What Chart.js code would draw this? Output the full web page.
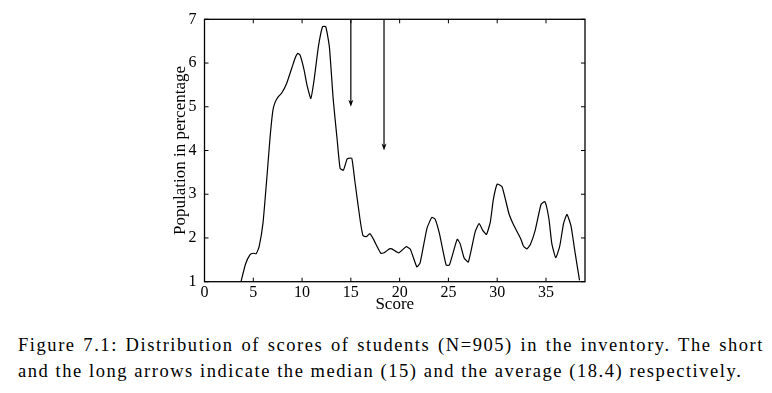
<!DOCTYPE html>
<html>
<head>
<meta charset="utf-8">
<script src="https://cdn.jsdelivr.net/npm/chart.js@4.4.1/dist/chart.umd.min.js"></script>
<style>
  html, body { margin: 0; padding: 0; background: #fff; }
  #wrap { position: absolute; left: 0; top: 0; width: 772px; height: 320px; }
  .cap { position: absolute; left: 18px; font-family: "Liberation Serif", "Times New Roman", serif; font-size: 18.5px; letter-spacing: 1.55px; color: #000; white-space: nowrap; }
  #cap1 { top: 335px; width: 746px; text-align: justify; text-align-last: justify; white-space: normal; }
  #cap2 { top: 361px; }
</style>
</head>
<body>
<div id="wrap"><canvas id="scoreChart" width="772" height="320"></canvas></div>
<div class="cap" id="cap1">Figure 7.1: Distribution of scores of students (N=905) in the inventory. The short</div>
<div class="cap" id="cap2">and the long arrows indicate the median (15) and the average (18.4) respectively.</div>
<script>
// Score distribution
const scores = [3.74, 4.2, 4.67, 5.0, 5.3, 5.6, 6.0, 6.4, 6.72, 7.0, 7.23, 7.57, 7.9, 8.43, 8.94, 9.3, 9.55, 9.8,
  10.2, 10.5, 10.9, 11.23, 11.67, 12.1, 12.43, 12.8, 13.2, 13.6, 13.9, 14.24, 14.6, 14.75, 15.1, 15.4, 15.95,
  16.25, 16.6, 16.95, 17.3, 17.7, 18.07, 18.4, 18.95, 19.2, 19.9, 20.67, 21.1, 21.76, 22.1, 22.8, 23.3, 23.64,
  24.08, 24.77, 25.1, 25.9, 26.2, 26.6, 27.04, 27.74, 28.15, 28.5, 28.9, 29.3, 29.6, 30.0, 30.5, 31.2, 31.7,
  32.4, 32.7, 33.05, 33.4, 33.9, 34.5, 34.9, 35.3, 35.6, 36.0, 36.4, 36.8, 37.15, 37.56, 38.0, 38.44];
const percents = [1.0, 1.4, 1.62, 1.65, 1.64, 1.8, 2.35, 3.4, 4.3, 4.9, 5.1, 5.23, 5.31, 5.54, 5.88, 6.12, 6.22, 6.18,
  5.85, 5.5, 5.19, 5.61, 6.37, 6.83, 6.83, 6.37, 5.15, 4.24, 3.59, 3.55, 3.8, 3.82, 3.82, 3.32, 2.41,
  2.05, 2.03, 2.1, 1.98, 1.8, 1.65, 1.66, 1.75, 1.75, 1.66, 1.8, 1.74, 1.34, 1.43, 2.22, 2.47, 2.43,
  2.1, 1.38, 1.38, 1.97, 1.87, 1.55, 1.45, 2.14, 2.33, 2.18, 2.08, 2.37, 2.87, 3.23, 3.17, 2.56, 2.29,
  1.99, 1.81, 1.75, 1.85, 2.18, 2.77, 2.83, 2.44, 1.87, 1.55, 1.8, 2.33, 2.54, 2.28, 1.64, 1.03];

// Arrows: [score, tip value]
const medianArrow = [15, 5];
const averageArrow = [18.4, 4];

const serif = '"Liberation Serif", "Times New Roman", serif';

const inwardTicks = {
  id: 'inwardTicks',
  afterDraw(chart) {
    const ctx = chart.ctx;
    const xs = chart.scales.x, ys = chart.scales.y;
    const a = chart.chartArea;
    const len = 4;
    ctx.save();
    ctx.strokeStyle = '#000';
    ctx.lineWidth = 1;
    ctx.beginPath();
    xs.ticks.forEach(t => {
      const px = xs.getPixelForValue(t.value);
      ctx.moveTo(px, a.bottom); ctx.lineTo(px, a.bottom - len);
      ctx.moveTo(px, a.top); ctx.lineTo(px, a.top + len);
    });
    ys.ticks.forEach(t => {
      const py = ys.getPixelForValue(t.value);
      ctx.moveTo(a.left, py); ctx.lineTo(a.left + len, py);
      ctx.moveTo(a.right, py); ctx.lineTo(a.right - len, py);
    });
    ctx.stroke();
    ctx.lineWidth = 1.3;
    ctx.strokeRect(a.left, a.top, a.right - a.left, a.bottom - a.top);
    ctx.restore();
  }
};

const arrows = {
  id: 'arrows',
  afterDatasetsDraw(chart) {
    const ctx = chart.ctx;
    const xs = chart.scales.x, ys = chart.scales.y;
    ctx.save();
    ctx.strokeStyle = '#000';
    ctx.fillStyle = '#000';
    ctx.lineWidth = 1.2;
    [medianArrow, averageArrow].forEach(([sx, tip]) => {
      const px = xs.getPixelForValue(sx);
      const top = chart.chartArea.top;
      const ty = ys.getPixelForValue(tip);
      ctx.beginPath();
      ctx.moveTo(px, top);
      ctx.lineTo(px, ty - 3);
      ctx.stroke();
      ctx.beginPath();
      ctx.moveTo(px, ty);
      ctx.lineTo(px - 2.5, ty - 7);
      ctx.lineTo(px, ty - 5);
      ctx.lineTo(px + 2.5, ty - 7);
      ctx.closePath();
      ctx.fill();
    });
    ctx.restore();
  }
};

new Chart(document.getElementById('scoreChart').getContext('2d'), {
  type: 'line',
  data: {
    datasets: [{
      data: scores.map((s, i) => ({ x: s, y: percents[i] })),
      borderColor: '#000',
      borderWidth: 1.2,
      pointRadius: 0,
      tension: 0.15,
      fill: false
    }]
  },
  options: {
    responsive: false,
    animation: false,
    events: [],
    layout: { padding: { left: 0, right: 187, top: 19.3, bottom: 0 } },
    plugins: { legend: { display: false }, tooltip: { enabled: false } },
    scales: {
      x: {
        type: 'linear',
        min: 0,
        max: 39,
        grid: { display: false, drawTicks: false },
        border: { display: false },
        ticks: { stepSize: 5, includeBounds: false, padding: 3, color: '#000', maxRotation: 0,
          font: { family: serif, size: 16, lineHeight: 1 } },
        title: { display: true, text: 'Score', color: '#000', padding: { top: 0, bottom: 7 },
          font: { family: serif, size: 17, lineHeight: 1 } },
        afterFit(scale) { scale.height = 38.3; }
      },
      y: {
        min: 1,
        max: 7,
        grid: { display: false, drawTicks: false },
        border: { display: false },
        ticks: { stepSize: 1, padding: 8, color: '#000', font: { family: serif, size: 16 } },
        title: { display: true, text: 'Population in percentage', color: '#000',
          padding: { top: 172, bottom: 0 }, font: { family: serif, size: 17, lineHeight: 1 } },
        afterFit(scale) { scale.width = 204.5; }
      }
    }
  },
  plugins: [arrows, inwardTicks]
});
</script>
</body>
</html>
